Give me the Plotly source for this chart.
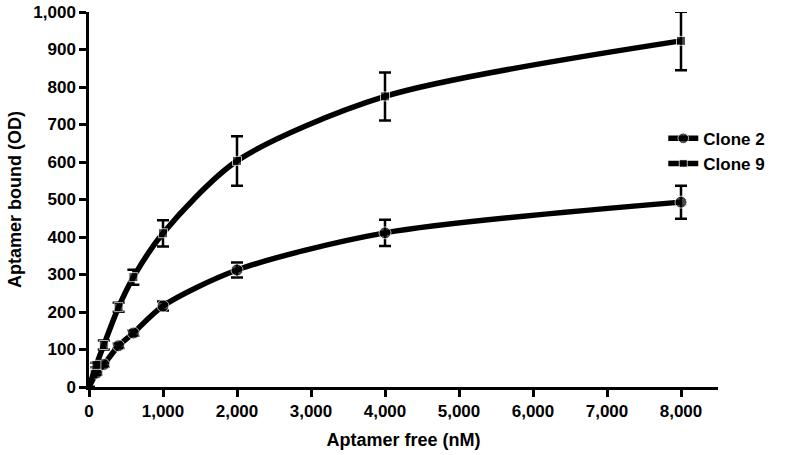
import plotly.graph_objects as go

# Data
conc = [0, 100, 200, 400, 600, 1000, 2000, 4000, 8000]
clone2 = [0, 37, 60, 110, 144, 216, 312, 411, 493]
clone2_err = [0, 4, 5, 6, 7, 12, 20, 35, 44]
clone9 = [0, 59, 112, 213, 293, 410, 603, 775, 923]
clone9_err = [0, 6, 12, 12, 20, 35, 66, 64, 78]
x_ticks = [0, 1000, 2000, 3000, 4000, 5000, 6000, 7000, 8000]
y_ticks = [0, 100, 200, 300, 400, 500, 600, 700, 800, 900, 1000]

FONT = "Liberation Sans, Arial, sans-serif"

fig = go.Figure()
for name, vals, errs, sym, size in [
    ("Clone 2", clone2, clone2_err, "circle", 12),
    ("Clone 9", clone9, clone9_err, "square", 9),
]:
    fig.add_trace(go.Scatter(
        x=conc, y=vals, name=name, mode="lines+markers",
        line=dict(color="black", width=5.5, shape="spline", smoothing=0.8),
        marker=dict(symbol=sym, color="black", size=[0] + [size] * (len(conc) - 1)),
        error_y=dict(type="data", array=errs, visible=True, color="black",
                     thickness=2.5, width=6),
    ))

fig.update_layout(
    width=792, height=455,
    margin=dict(l=89, r=74, t=12, b=68),
    paper_bgcolor="white", plot_bgcolor="white",
    font=dict(family=FONT, size=16, color="black"),
    showlegend=True,
    legend=dict(x=0.913, y=0.71, xanchor="left", yanchor="top",
                font=dict(family=FONT, size=17, color="black", weight="bold"),
                bgcolor="rgba(0,0,0,0)", itemwidth=30, tracegroupgap=0),
)
fig.update_xaxes(
    range=[0, 8500], tickvals=x_ticks, tickformat=",d", automargin=False,
    showline=True, linecolor="black", linewidth=2.5,
    ticks="outside", ticklen=7, tickwidth=2.5, tickcolor="black",
    showgrid=False, zeroline=False,
    tickfont=dict(family=FONT, size=17, weight="bold"),
    title=dict(text="Aptamer free (nM)", font=dict(family=FONT, size=18, weight="bold"), standoff=14),
)
fig.update_yaxes(
    range=[0, 1000], tickvals=y_ticks, tickformat=",d", automargin=False,
    ticklabeloverflow="allow",
    showline=True, linecolor="black", linewidth=2.5,
    ticks="outside", ticklen=7, tickwidth=2.5, tickcolor="black",
    showgrid=False, zeroline=False,
    tickfont=dict(family=FONT, size=17, weight="bold"),
    title=dict(text="Aptamer bound (OD)", font=dict(family=FONT, size=18, weight="bold"), standoff=8),
)
fig.write_html("out.html", config={"displayModeBar": False},
               post_script="document.body.style.margin='0';")
